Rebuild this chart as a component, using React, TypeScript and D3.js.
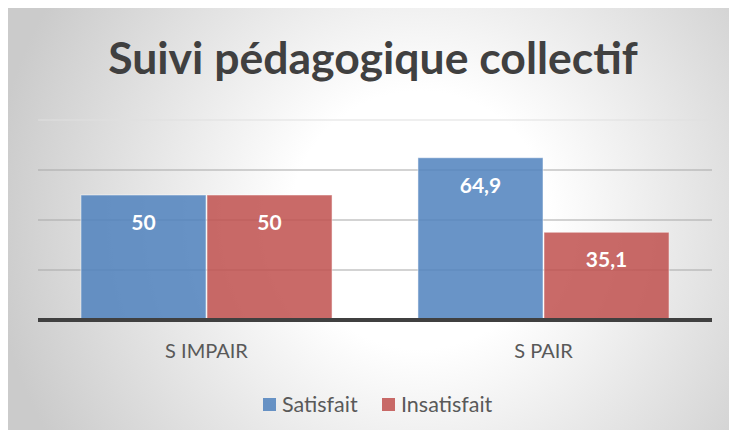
import React, { useRef, useEffect } from 'react';
import * as d3 from 'd3';

const WIDTH = 737;
const HEIGHT = 438;

const categories = ['S IMPAIR', 'S PAIR'];
const seriesNames = ['Satisfait', 'Insatisfait'];
const satisfait = [50, 64.9];
const insatisfait = [50, 35.1];
const yTicks = [20, 40, 60, 80];
const colors = ['#4f81bd', '#c0504d'];

const FONT = 'Lato, "Open Sans", sans-serif';

export default function App() {
  const svgRef = useRef<SVGSVGElement>(null);

  useEffect(() => {
    if (!svgRef.current) return;
    const svg = d3.select(svgRef.current);
    svg.selectAll('*').remove();

    const defs = svg.append('defs');
    const grad = defs
      .append('radialGradient')
      .attr('id', 'bg')
      .attr('gradientUnits', 'userSpaceOnUse')
      .attr('cx', 420)
      .attr('cy', 220)
      .attr('r', 430);
    grad.append('stop').attr('offset', '0%').attr('stop-color', '#ffffff');
    grad.append('stop').attr('offset', '30%').attr('stop-color', '#ffffff');
    grad.append('stop').attr('offset', '100%').attr('stop-color', '#cbcbcb');

    svg.append('rect').attr('width', WIDTH).attr('height', HEIGHT).attr('fill', '#ffffff');
    svg
      .append('rect')
      .attr('x', 7)
      .attr('y', 7)
      .attr('width', WIDTH - 7)
      .attr('height', HEIGHT - 7)
      .attr('fill', 'url(#bg)');

    const left = 38;
    const right = 712;
    const x0 = d3.scaleBand<string>().domain(categories).range([left, right]).paddingInner(0.252).paddingOuter(0.126);
    const x1 = d3.scaleBand<string>().domain(seriesNames).range([0, x0.bandwidth()]).padding(0);
    const y = d3.scaleLinear().domain([0, 80]).range([320, 120]);

    // gridlines
    svg
      .append('g')
      .selectAll('line')
      .data(yTicks)
      .join('line')
      .attr('x1', left)
      .attr('x2', right)
      .attr('y1', (d) => y(d))
      .attr('y2', (d) => y(d))
      .attr('stroke', (d) => (d === 80 ? '#e0e0e0' : '#a8a8a8'))
      .attr('stroke-width', 1.2);

    const rows = categories.map((c, i) => ({ cat: c, values: [satisfait[i], insatisfait[i]] }));

    const groups = svg
      .append('g')
      .selectAll('g')
      .data(rows)
      .join('g')
      .attr('transform', (d) => `translate(${x0(d.cat)},0)`);

    groups
      .selectAll('rect')
      .data((d) => d.values.map((v, j) => ({ v, s: seriesNames[j], j })))
      .join('rect')
      .attr('x', (d) => (x1(d.s) ?? 0) + 0.5)
      .attr('width', x1.bandwidth() - 1)
      .attr('y', (d) => y(d.v))
      .attr('height', (d) => 320 - y(d.v))
      .attr('fill', (d) => colors[d.j])
      .attr('fill-opacity', 0.85)
      .attr('stroke', '#ffffff')
      .attr('stroke-opacity', 0.5)
      .attr('stroke-width', 1);

    groups
      .selectAll('text')
      .data((d) => d.values.map((v, j) => ({ v, s: seriesNames[j] })))
      .join('text')
      .attr('x', (d) => (x1(d.s) ?? 0) + x1.bandwidth() / 2)
      .attr('y', (d) => y(d.v) + 35)
      .attr('text-anchor', 'middle')
      .attr('fill', '#ffffff')
      .attr('font-family', FONT)
      .attr('font-weight', 'bold')
      .attr('font-size', '21px')
      .text((d) => String(d.v).replace('.', ','));

    // axis baseline
    svg
      .append('line')
      .attr('x1', left)
      .attr('x2', right)
      .attr('y1', 320)
      .attr('y2', 320)
      .attr('stroke', '#404040')
      .attr('stroke-width', 4);

    // category labels
    svg
      .append('g')
      .selectAll('text')
      .data(categories)
      .join('text')
      .attr('x', (d) => (x0(d) ?? 0) + x0.bandwidth() / 2)
      .attr('y', 358)
      .attr('text-anchor', 'middle')
      .attr('fill', '#595959')
      .attr('font-family', FONT)
      .attr('font-size', '20px')
      .text((d) => d);

    // title
    svg
      .append('text')
      .attr('x', 373)
      .attr('y', 74)
      .attr('text-anchor', 'middle')
      .attr('fill', '#404040')
      .attr('font-family', FONT)
      .attr('font-weight', 'bold')
      .attr('font-size', '44.5px')
      .text('Suivi pédagogique collectif');

    // legend
    const legendX = [263, 382];
    const lg = svg
      .append('g')
      .selectAll('g')
      .data(seriesNames)
      .join('g')
      .attr('transform', (_d, i) => `translate(${legendX[i]},398)`);
    lg.append('rect')
      .attr('width', 13)
      .attr('height', 13)
      .attr('fill', (_d, i) => colors[i])
      .attr('fill-opacity', 0.85);
    lg.append('text')
      .attr('x', 19)
      .attr('y', 14)
      .attr('fill', '#595959')
      .attr('font-family', FONT)
      .attr('font-size', '21.5px')
      .text((d) => d);
  }, []);

  return (
    <div style={{ margin: -8 }}>
      <svg ref={svgRef} width={WIDTH} height={HEIGHT} style={{ display: 'block' }} />
    </div>
  );
}
